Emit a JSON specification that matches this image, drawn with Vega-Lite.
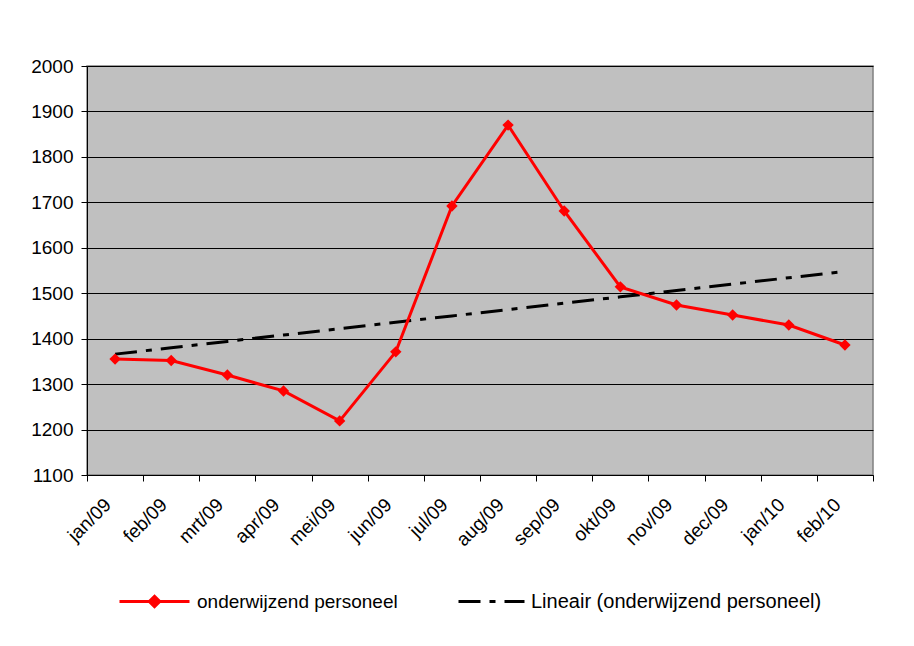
{
  "$schema": "https://vega.github.io/schema/vega-lite/v6.json",
  "autosize": {"type": "none"},
  "width": 786,
  "height": 409,
  "padding": {"left": 87, "top": 66, "right": 41, "bottom": 171},
  "background": "white",
  "config": {
    "font": "Liberation Sans",
    "view": {"fill": "#C0C0C0", "stroke": "#808080", "strokeWidth": 1.5},
    "axis": {
      "labelFont": "Liberation Sans",
      "labelFontSize": 19,
      "labelColor": "black",
      "domainColor": "black",
      "domainWidth": 1,
      "tickColor": "black",
      "tickSize": 6,
      "titleFontSize": 0
    },
    "legend": {
      "labelFont": "Liberation Sans",
      "labelFontSize": 19,
      "labelColor": "black",
      "labelLimit": 0,
      "padding": 0
    }
  },
  "data": {
    "values": [
      {"maand": "jan/09", "personeel": 1355, "trend": 1366},
      {"maand": "feb/09", "personeel": 1352, "trend": 1380},
      {"maand": "mrt/09", "personeel": 1320, "trend": 1394},
      {"maand": "apr/09", "personeel": 1285, "trend": 1408},
      {"maand": "mei/09", "personeel": 1219, "trend": 1422},
      {"maand": "jun/09", "personeel": 1371, "trend": 1436},
      {"maand": "jul/09", "personeel": 1692, "trend": 1450},
      {"maand": "aug/09", "personeel": 1870, "trend": 1464},
      {"maand": "sep/09", "personeel": 1681, "trend": 1478},
      {"maand": "okt/09", "personeel": 1514, "trend": 1492},
      {"maand": "nov/09", "personeel": 1474, "trend": 1506},
      {"maand": "dec/09", "personeel": 1452, "trend": 1520},
      {"maand": "jan/10", "personeel": 1430, "trend": 1534},
      {"maand": "feb/10", "personeel": 1386, "trend": 1548}
    ]
  },
  "encoding": {
    "x": {
      "field": "maand",
      "type": "ordinal",
      "sort": null,
      "scale": {"type": "band", "paddingInner": 0, "paddingOuter": 0},
      "axis": {
        "title": null,
        "labelAngle": -45,
        "labelAlign": "right",
        "labelBaseline": "top",
        "labelPadding": 14,
        "labelOffset": -14,
        "tickBand": "extent",
        "grid": false
      }
    }
  },
  "layer": [
    {
      "mark": {"type": "line", "color": "black", "strokeWidth": 3},
      "encoding": {
        "y": {
          "field": "trend",
          "type": "quantitative",
          "scale": {"domain": [1100, 2000], "nice": false, "zero": false},
          "axis": {
            "title": null,
            "format": "d",
            "values": [1100, 1200, 1300, 1400, 1500, 1600, 1700, 1800, 1900, 2000],
            "grid": true,
            "gridColor": "black",
            "gridWidth": 1,
            "labelPadding": 8
          }
        },
        "strokeDash": {
          "datum": "Lineair (onderwijzend personeel)",
          "scale": {"domain": ["Lineair (onderwijzend personeel)"], "range": [[22, 9, 6, 9]]},
          "legend": {
            "title": null,
            "orient": "none",
            "legendX": 370,
            "legendY": 501,
            "symbolType": "stroke",
            "symbolSize": 4356,
            "symbolStrokeColor": "black",
            "symbolStrokeWidth": 3,
            "labelOffset": 5,
            "labelFontSize": 20,
            "encode": {"symbols": {"update": {"strokeDash": {"value": [18, 11, 6, 11]}, "stroke": {"value": "black"}, "strokeWidth": {"value": 3}}}}
          }
        }
      }
    },
    {
      "mark": {"type": "line", "color": "#FF0000", "strokeWidth": 3},
      "encoding": {
        "y": {"field": "personeel", "type": "quantitative"}
      }
    },
    {
      "mark": {"type": "point", "shape": "diamond", "filled": true, "size": 130, "opacity": 1},
      "encoding": {
        "y": {"field": "personeel", "type": "quantitative"},
        "color": {
          "datum": "onderwijzend personeel",
          "scale": {"domain": ["onderwijzend personeel"], "range": ["#FF0000"]},
          "legend": {
            "title": null,
            "orient": "none",
            "legendX": 31,
            "legendY": 499,
            "symbolType": "M-1,0H1M0,-0.15L0.15,0L0,0.15L-0.15,0Z",
            "symbolSize": 4900,
            "symbolFillColor": "#FF0000",
            "symbolStrokeColor": "#FF0000",
            "symbolStrokeWidth": 3,
            "labelOffset": 6,
            "encode": {"symbols": {"update": {"stroke": {"value": "#FF0000"}, "strokeWidth": {"value": 3}, "fill": {"value": "#FF0000"}, "opacity": {"value": 1}}}}
          }
        }
      }
    }
  ]
}
